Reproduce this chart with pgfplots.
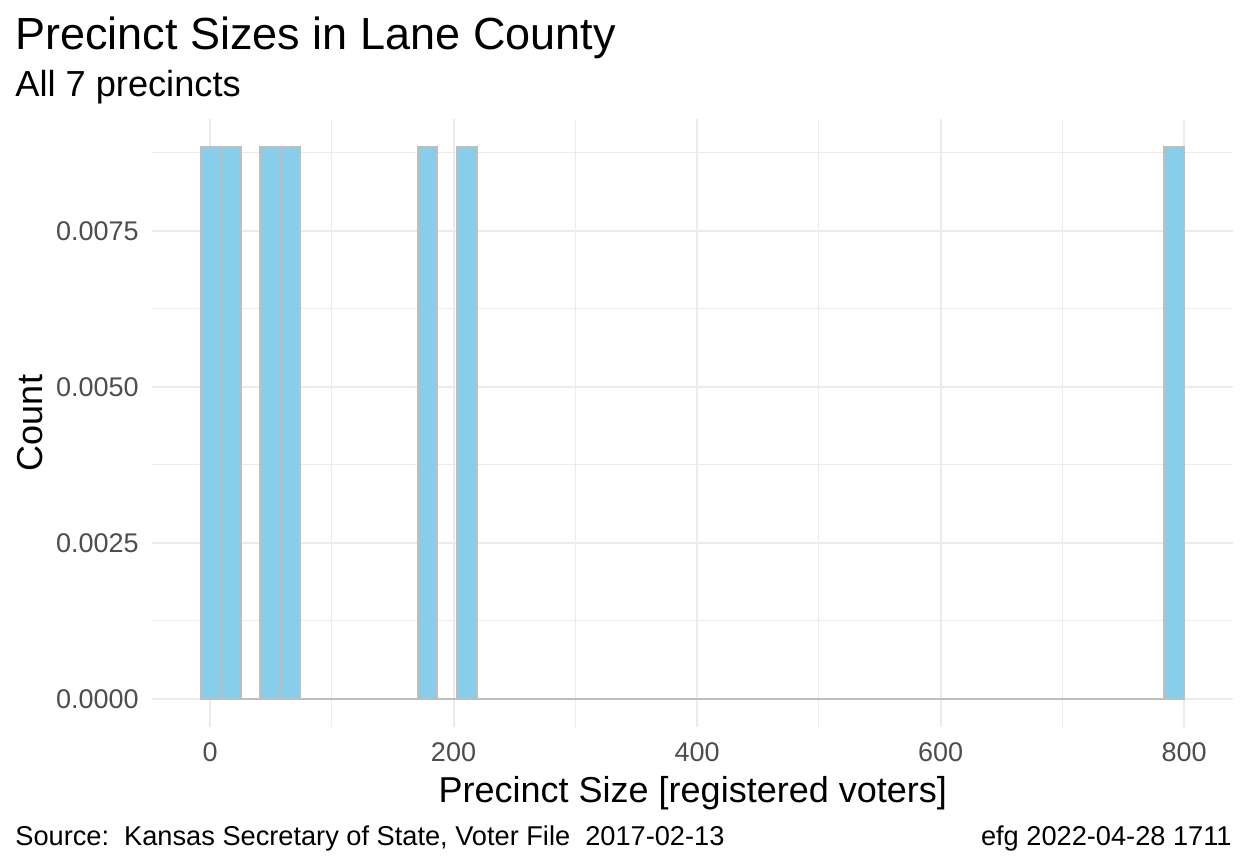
\documentclass[border=0pt]{standalone}
\usepackage{pgfplots}
\pgfplotsset{compat=1.18}
\usepackage{fontspec}
\setmainfont{Liberation Sans}
\definecolor{barfill}{HTML}{87CEEB}
\definecolor{bardraw}{HTML}{BEBEBE}
\definecolor{gridc}{HTML}{EBEBEB}
\definecolor{tickc}{HTML}{4D4D4D}
\begin{document}
\begin{tikzpicture}
\path (0,0) rectangle (624pt,432pt);
\begin{axis}[
  at={(76.15pt,68.7pt)}, anchor=south west,
  scale only axis, width=540.4pt, height=303.65pt,
  xmin=-47.4, xmax=840.3, ymin=-0.000443, ymax=0.00929,
  axis line style={draw=none},
  xtick={0,200,400,600,800}, minor xtick={100,300,500,700},
  ytick={0,0.0025,0.005,0.0075}, minor ytick={0.00125,0.00375,0.00625,0.00875},
  grid=both,
  major grid style={draw=gridc, line width=1pt},
  minor grid style={draw=gridc, line width=0.5pt},
  major tick length=0pt, minor tick length=0pt,
  tick style={draw=none},
  scaled y ticks=false,
  /pgf/number format/assume math mode=true,
  yticklabel={\pgfmathprintnumber[fixed,fixed zerofill,precision=4]{\tick}},
  tick label style={font=\fontsize{13.5}{16}\selectfont, text=tickc},
  xticklabel style={anchor=north, inner sep=0pt, yshift=-8pt},
  yticklabel style={anchor=east, inner sep=0pt, xshift=-6.6pt},
  clip=false,
]
\addplot[ybar interval, fill=barfill, draw=bardraw, line width=1pt] table[x=x,y=y] {
x y
-7.07 0.00885
9.07 0.00885
25.21 0
41.35 0.00885
57.49 0.00885
73.63 0
89.77 0
105.91 0
122.05 0
138.19 0
154.33 0
170.47 0.00885
186.61 0
202.75 0.00885
218.89 0
235.03 0
251.17 0
267.31 0
283.45 0
299.59 0
315.73 0
331.87 0
348.01 0
364.15 0
380.29 0
396.43 0
412.57 0
428.71 0
444.85 0
460.99 0
477.13 0
493.27 0
509.41 0
525.55 0
541.69 0
557.83 0
573.97 0
590.11 0
606.25 0
622.39 0
638.53 0
654.67 0
670.81 0
686.95 0
703.09 0
719.23 0
735.37 0
751.51 0
767.65 0
783.79 0.00885
799.93 0
};
\end{axis}
\node[anchor=base west, inner sep=0pt, font=\fontsize{22.5}{27}\selectfont] at (7.5pt,407pt) {Precinct Sizes in Lane County};
\node[anchor=base west, inner sep=0pt, font=\fontsize{18.1}{22}\selectfont] at (7.5pt,383.5pt) {All 7 precincts};
\node[anchor=base, inner sep=0pt, font=\fontsize{18}{22}\selectfont] at (346.4pt,31pt) {Precinct Size [registered voters]};
\node[anchor=base, rotate=90, inner sep=0pt, font=\fontsize{18}{22}\selectfont] at (21pt,220.5pt) {Count};
\node[anchor=base west, inner sep=0pt, font=\fontsize{13.6}{16}\selectfont] at (7.5pt,9.5pt) {Source:\ \ Kansas Secretary of State, Voter File\ \ 2017-02-13};
\node[anchor=base east, inner sep=0pt, font=\fontsize{13.6}{16}\selectfont] at (616pt,9.5pt) {efg 2022-04-28 1711};
\end{tikzpicture}
\end{document}
